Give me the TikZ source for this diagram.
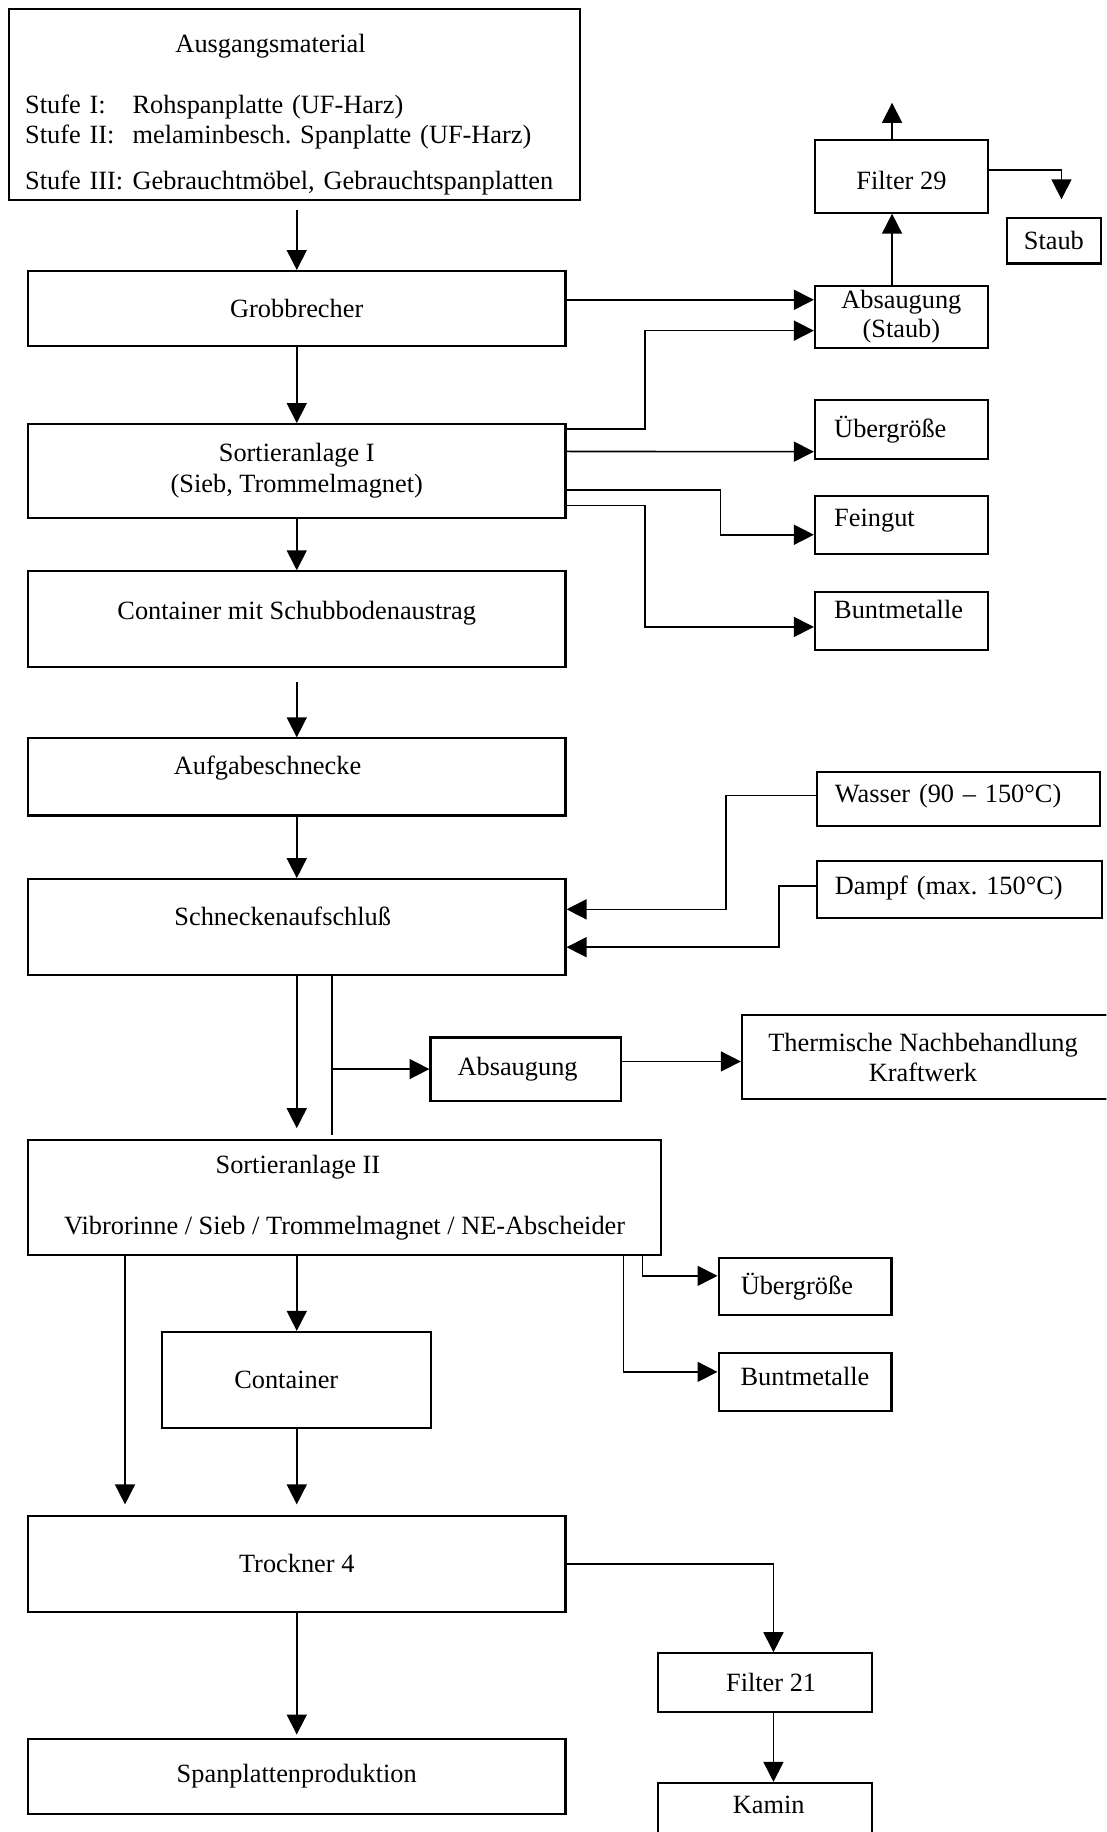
\documentclass[tikz,border=0pt]{standalone}
\usepackage{fontspec}
\setmainfont{Liberation Serif}
\usetikzlibrary{arrows.meta,positioning}
\newlength{\px}
\setlength{\px}{0.02338cm}
\newcommand{\boxfont}{\fontsize{15}{17}\selectfont\frenchspacing}
\tikzstyle{stage} = [draw, line width=1.2pt, inner sep=0pt, font=\boxfont]
\tikzstyle{arrow} = [draw, line width=0.9pt, -{Triangle[length=0.4cm,width=0.4cm]}]
\tikzstyle{line} = [draw, line width=0.9pt]
\tikzset{lift/.style={text height=16\px, text depth=#1\px},
         flush/.style={align=left, text width=#1\px}}
\newcommand{\stage}[5]{node (#1) [stage, minimum width=#2\px, minimum height=#3\px, #4] {#5}}

\begin{document}
\begin{tikzpicture}[x=0.02338cm, y=-0.02338cm]
\path [use as bounding box, clip] (0,0) rectangle (947,1568);

% main line
\path (252,89.5) \stage{ausg}{489}{164}{flush=461}{\rule{0pt}{33\px}\hspace*{128.7\px}Ausgangsmaterial\\[18pt]\makebox[92\px][l]{Stufe I:}Rohspanplatte (UF-Harz)\\\makebox[92\px][l]{Stufe II:}melaminbesch. Spanplatte (UF-Harz)\\[9.5pt]\makebox[92\px][l]{Stufe III:}Gebrauchtmöbel, Gebrauchtspanplatten};
\path (254,264) \stage{grob}{460}{64}{}{Grobbrecher};
\path (254,403) \stage{sort1}{460}{80}{align=center}{Sortieranlage I\\[1pt](Sieb, Trommelmagnet)};
\path (254,530) \stage{cont1}{460}{82}{lift=16}{Container mit Schubbodenaustrag};
\path (254,665) \stage{aufg}{460}{66}{lift=21}{\hspace*{-50\px}Aufgabeschnecke};
\path (254,793.5) \stage{schn}{460}{82}{lift=19}{\hspace*{-24\px}Schneckenaufschluß};
\path (295,1025) \stage{sort2}{542}{99}{align=center}{\hspace*{-80\px}Sortieranlage II\\[17.5pt]Vibrorinne / Sieb / Trommelmagnet / NE-Abscheider};
\path (254,1181) \stage{cont2}{230}{82}{}{\hspace*{-18\px}Container};
\path (254,1338.5) \stage{trock}{460}{82}{}{Trockner 4};
\path (254,1520.5) \stage{span}{460}{64}{}{Spanplattenproduktion};

% side branches
\path (771.5,151) \stage{filt29}{148}{62}{text height=22\px, text depth=0pt}{Filter 29};
\path (902,206) \stage{staub}{80}{39}{}{Staub};
\path (771.5,271) \stage{abs1}{148}{53}{align=center}{Absaugung\\(Staub)};
\path (771.5,367.5) \stage{ueb1}{148}{50}{flush=115}{Übergröße};
\path (771.5,449.5) \stage{fein}{148}{50}{flush=115, lift=14}{Feingut};
\path (771.5,531.5) \stage{bunt1}{148}{50}{flush=115, lift=21}{Buntmetalle};
\path (820.5,684) \stage{wass}{242}{46}{flush=212, lift=10}{Wasser (90 – 150°C)};
\path (821.5,761.5) \stage{dampf}{244}{49}{flush=214, lift=8}{Dampf (max. 150°C)};
\path (450,915) \stage{abs2}{163}{54}{}{\hspace*{-14\px}Absaugung};
\path (793,905) \stage{therm}{316}{72}{align=center}{\hspace*{-6\px}Thermische Nachbehandlung\\\hspace*{-6\px}Kraftwerk};
\path (689,1101) \stage{ueb2}{148}{49}{flush=110}{Übergröße};
\path (689,1183) \stage{bunt2}{148}{50}{lift=11}{Buntmetalle};
\path (655,1440) \stage{filt21}{183}{50}{}{\hspace*{10\px}Filter 21};
\path (655,1551) \stage{kamin}{183}{50}{lift=13}{\hspace*{6\px}Kamin};
\coordinate (luft) at (763.5,88);

% connectors, main line
\path [arrow, shorten <=7\px] (grob.north |- ausg.south) -- (grob.north);
\path [arrow] (grob.south) -- (sort1.north);
\path [arrow] (sort1.south) -- (cont1.north);
\path [arrow, shorten <=12\px] (cont1.south) -- (aufg.north);
\path [arrow] (aufg.south) -- (schn.north);
\path [arrow, shorten >=9\px] (schn.south) -- (schn.south |- sort2.north);
\path [line, shorten >=3\px] ([xshift=30\px]schn.south) -- ([xshift=30\px]schn.south |- sort2.north);
\path [arrow] ([xshift=30\px]schn.south |- abs2.west) -- (abs2.west);
\path [arrow] ([yshift=6.5\px]abs2.east) -- ([yshift=6.5\px]abs2.east -| therm.west);
\path [arrow, shorten >=9\px] ([xshift=-147\px]trock.north |- sort2.south) -- ([xshift=-147\px]trock.north);
\path [arrow] (sort2.south -| cont2.north) -- (cont2.north);
\path [arrow] ([xshift=255\px]sort2.south) |- ([yshift=9\px]ueb2.west);
\path [arrow] ([xshift=238.5\px]sort2.south) |- ([yshift=8.8\px]bunt2.west);
\path [arrow, shorten >=9\px] (cont2.south) -- (trock.north);
\path [arrow, shorten >=3\px] (trock.south) -- (span.north);
\path [arrow] (trock.east) -| ([xshift=7\px]filt21.north);
\path [arrow] ([xshift=7\px]filt21.south) -- ([xshift=7\px]kamin.north);

% connectors, upper right
\path [arrow] ([yshift=7.4\px]grob.east) -- ([yshift=14.4\px]abs1.west);
\path [arrow] ([yshift=35.7\px]sort1.east) -- ++(67,0) |- ([yshift=-12\px]abs1.west);
\path [arrow] ([yshift=16.6\px]sort1.east) -- ([yshift=-19.1\px]ueb1.west);
\path [arrow] ([yshift=-16.2\px]sort1.east) -- ++(131.8,0) |- ([yshift=-8.2\px]fein.west);
\path [arrow] ([yshift=-29.6\px]sort1.east) -- ++(67,0) |- ([yshift=-5.1\px]bunt1.west);
\path [arrow] ([xshift=-8\px]abs1.north) -- ([xshift=-8\px]filt29.south);
\path [arrow] ([xshift=-8\px]filt29.north) -- (luft);
\path [arrow, shorten >=15\px] ([yshift=5.6\px]filt29.east) -| ([xshift=6.5\px]staub.north);
\path [arrow] ([yshift=3\px]wass.west) -- ++(-77.4,0) |- ([yshift=15.2\px]schn.east);
\path [arrow] ([yshift=3.2\px]dampf.west) -- ++(-32,0) |- ([yshift=-17.2\px]schn.east);
\end{tikzpicture}
\end{document}
